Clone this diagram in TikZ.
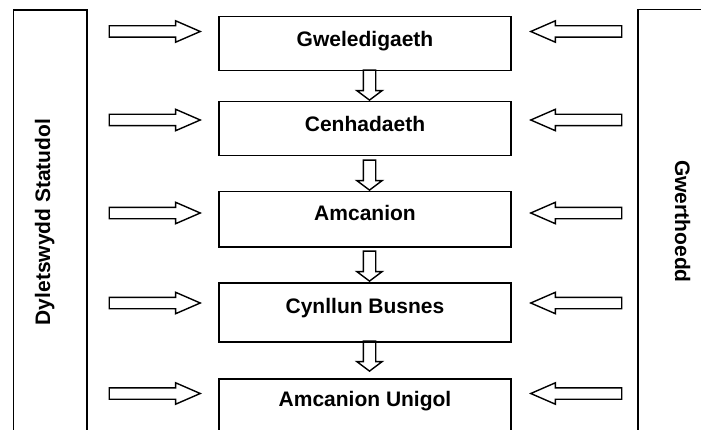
\documentclass[tikz,border=0pt]{standalone}
\usepackage{fontspec}
\setmainfont{Liberation Sans}
\usetikzlibrary{shapes.arrows}
\begin{document}
\begin{tikzpicture}[x=1pt,y=1pt,
  txt/.style={font=\fontsize{21}{25}\selectfont\bfseries},
  stage/.style={txt, draw, line width=1.5pt, minimum width=292pt, inner sep=0pt, anchor=north},
  tallbox/.style={txt, draw, line width=1.5pt, inner sep=0pt, minimum width=424pt},
  blockarrow/.style={single arrow, draw, line width=1.4pt, inner xsep=0pt, text height=0pt, text depth=0pt, anchor=tip},
  hright/.style={blockarrow, inner ysep=5pt, single arrow head extend=5pt, single arrow tip angle=47, minimum height=91pt},
  vdown/.style={blockarrow, rotate=-90, inner ysep=5.5pt, single arrow head extend=6.5pt, single arrow tip angle=106, minimum height=30pt}
]
\useasboundingbox (0,0) rectangle (701,429);
\clip (0,0) rectangle (701,429);

% side boxes
\node[tallbox, rotate=90, text height=36.7pt, text depth=37pt] (duty) at (50.2,207) {Dyletswydd Statudol};
\node[tallbox, rotate=-90, text height=60pt, text depth=37pt] (vals) at (686.5,207.5) {Gwerthoedd};

% central stages
\node[stage, text height=29.5pt, text depth=24.5pt] (s1) at (365,413) {Gweledigaeth};
\node[stage, text height=29.5pt, text depth=24.5pt] (s2) at (365,328) {Cenhadaeth};
\node[stage, text height=29pt, text depth=26pt] (s3) at (365,238) {Amcanion};
\node[stage, text height=31pt, text depth=28pt] (s4) at (365,147) {Cynllun Busnes};
\node[stage, text height=28pt, text depth=40pt] (s5) at (365,51) {Amcanion Unigol};

% down arrows between stages (tip on the next stage)
\node[vdown] (d1) at ([xshift=4.5pt]s2.north) {};
\node[vdown] (d2) at ([xshift=4.5pt]s3.north) {};
\node[vdown] (d3) at ([xshift=4.5pt]s4.north) {};
\node[vdown] (d4) at ([xshift=4.5pt,yshift=6pt]s5.north) {};

% arrows from the left
\node[hright] (l1) at (202,397.5) {};
\node[hright] (l2) at (202,309) {};
\node[hright] (l3) at (202,216) {};
\node[hright] (l4) at (202,126) {};
\node[hright] (l5) at (202,35.5) {};

% arrows from the right
\node[hright, rotate=180] (r1) at (529,397.5) {};
\node[hright, rotate=180] (r2) at (529,309) {};
\node[hright, rotate=180] (r3) at (529,216) {};
\node[hright, rotate=180] (r4) at (529,126) {};
\node[hright, rotate=180] (r5) at (529,35.5) {};
\end{tikzpicture}
\end{document}
